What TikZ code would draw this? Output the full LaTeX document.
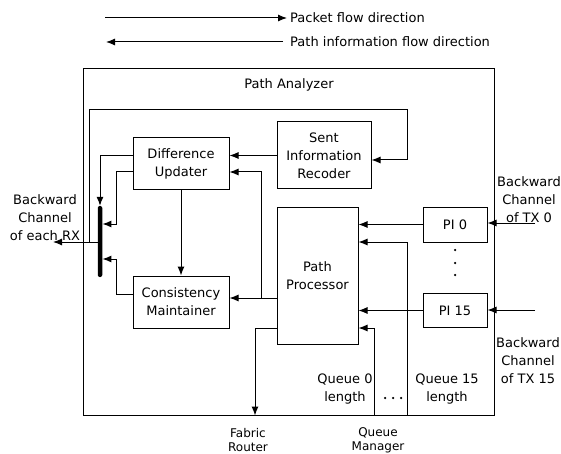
\documentclass[tikz,border=0pt]{standalone}
\usepackage{fontspec}
\setmainfont{DejaVu Sans}
\usetikzlibrary{arrows.meta}
\begin{document}
\begin{tikzpicture}[x=1pt,y=-1pt,
  every node/.style={font=\fontsize{13}{18}\selectfont, inner sep=0pt},
  box/.style={draw, line width=1pt, align=center},
  arr/.style={line width=1pt, -{Latex[length=9pt,width=7pt]}},
  lbl/.style={align=center},
  small/.style={font=\fontsize{12}{14}\selectfont, align=center},
  dot/.style={circle, fill, minimum size=2.5pt, inner sep=0pt}]
\useasboundingbox (0,0) rectangle (561,454);

% legend
\coordinate (l1a) at (105,18);
\coordinate (l1b) at (287,18);
\draw[arr] (l1a) -- (l1b);
\node[anchor=west] (t1) at (290,18) {Packet flow direction};
\coordinate (l2a) at (283,42);
\coordinate (l2b) at (106,42);
\draw[arr] (l2a) -- (l2b);
\node[anchor=west] (t2) at (290,42) {Path information flow direction};

% outer box
\node[draw, line width=1pt, minimum width=411pt, minimum height=346pt] (PA) at (288.5,242) {};
\node (pat) at (289,85) {Path Analyzer};

% blocks
\node[box, minimum width=96pt, minimum height=52pt] (DU) at (181,164) {Difference\\Updater};
\node[box, minimum width=96pt, minimum height=52pt] (CM) at (181,302) {Consistency\\Maintainer};
\node[box, minimum width=94pt, minimum height=67pt] (SIR) at (324,155.5) {Sent\\Information\\Recoder};
\node[box, minimum width=81pt, minimum height=137pt] (PP) at (317.5,275.5) {Path\\Processor};
\node[box, minimum width=64pt, minimum height=35pt] (PI0) at (455,224.5) {PI 0};
\node[box, minimum width=64pt, minimum height=34pt] (PI15) at (455,310.5) {PI 15};
\node[fill, rounded corners=2pt, minimum width=4.5pt, minimum height=71pt] (bus) at (100,241.5) {};

% connectors
\draw[arr] (SIR.west) -- (SIR.west -| DU.east);
\coordinate (j1) at (261,298);
\draw[arr] (PP.west |- j1) -- (CM.east |- j1);
\draw[arr] (j1) -- (261,172) -- (DU.east |- 0,172);
\draw[arr] (DU.south) -- (CM.north);
\draw[arr] (DU.west |- 0,156) -| (bus.north);
\draw[arr] (DU.west |- 0,172) -- (116,172) -- (116,224) -- (bus.east |- 0,224);
\draw[arr] (CM.west |- 0,294) -- (116,294) -- (116,259) -- (bus.east |- 0,259);
\coordinate (rx) at (53,242);
\draw[arr] (bus.west |- rx) -- (rx);
\draw[arr] (89,242) -- (89,110) -- (407,110) -- (407,160) -- (SIR.east |- 0,160);
\draw[arr] (PI0.west) -- (PI0.west -| PP.east);
\draw[arr] (PA.south -| 407,0) -- (407,242) -- (PP.east |- 0,242);
\draw[arr] (PI15.west) -- (PI15.west -| PP.east);
\draw[arr] (PA.south -| 374,0) -- (374,328) -- (PP.east |- 0,328);
\draw[arr] (PP.west |- 0,328) -- (255,328) -- (PA.south -| 255,0);
\coordinate (tx0) at (535,223);
\draw[arr] (tx0) -- (tx0 -| PI0.east);
\coordinate (tx15) at (535,310);
\draw[arr] (tx15) -- (tx15 -| PI15.east);

% dots
\node[dot] (d1) at (455,250) {};
\node[dot] (d2) at (455,263) {};
\node[dot] (d3) at (455,275) {};
\node[dot] (e1) at (385,398) {};
\node[dot] (e2) at (393,398) {};
\node[dot] (e3) at (401,398) {};

% labels
\node[lbl] (lrx) at (45,218) {Backward\\Channel\\of each RX};
\node[lbl] (ltx0) at (529,200) {Backward\\Channel\\of TX 0};
\node[lbl] (ltx15) at (528,361) {Backward\\Channel\\of TX 15};
\node[lbl] (q0) at (345,389) {Queue 0\\length};
\node[lbl] (q15) at (447,389) {Queue 15\\length};
\node[small] (fr) at (248,440) {Fabric\\Router};
\node[small] (qm) at (378,440) {Queue\\Manager};
\end{tikzpicture}
\end{document}
